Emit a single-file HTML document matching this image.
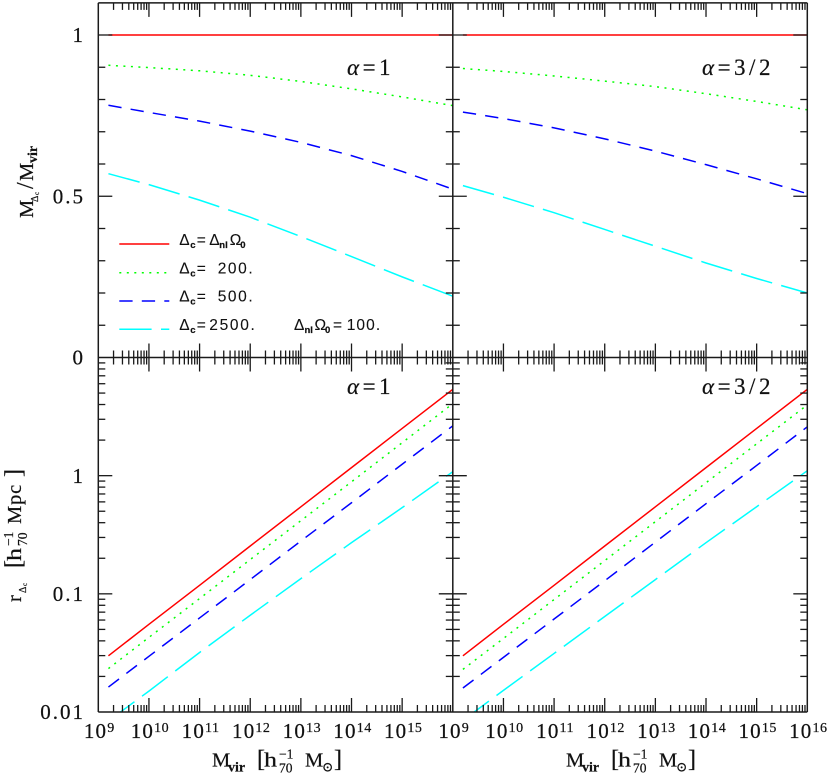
<!DOCTYPE html>
<html>
<head>
<meta charset="utf-8">
<title>Mass and radius ratios</title>
<style>
html,body{margin:0;padding:0;background:#fff;}
svg{display:block;}
text{font-family:"Liberation Serif","DejaVu Serif",serif;fill:#111;stroke:#111;stroke-width:.22px;}
.leg{font-family:"Liberation Sans","DejaVu Sans",sans-serif;font-size:15.5px;stroke-width:.1px;}
.legs{font-family:"Liberation Sans","DejaVu Sans",sans-serif;font-size:9.5px;font-weight:bold;}
.t{font-size:20.5px;letter-spacing:.8px;}
.s{font-size:13.5px;}
.a{font-size:23px;letter-spacing:3.5px;}
</style>
</head>
<body>
<svg id="chart" xmlns="http://www.w3.org/2000/svg" width="830" height="775" viewBox="0 0 830 775">
<defs>
<clipPath id="clip-tl"><rect x="98.3" y="2.9" width="354.5" height="354.6"/></clipPath>
<clipPath id="clip-tr"><rect x="452.8" y="2.9" width="354.5" height="354.6"/></clipPath>
<clipPath id="clip-bl"><rect x="98.3" y="357.5" width="354.5" height="354.5"/></clipPath>
<clipPath id="clip-br"><rect x="452.8" y="357.5" width="354.5" height="354.5"/></clipPath>
</defs>
<g id="marks"></g>

<g transform="translate(33,218) rotate(-90)">
<text class="t" x="0" y="0">M</text>
<text class="s" x="16" y="5" style="font-size:10px">Δ</text>
<text class="s" x="23" y="6" style="font-size:7px">c</text>
<text class="t" x="29" y="0" style="font-size:24px">/</text>
<text class="t" x="37" y="0">M</text>
<text class="s" x="55" y="4" style="font-weight:bold;font-size:14px">vir</text>
</g>
<g transform="translate(21,602) rotate(-90)">
<text class="t" x="0" y="0">r</text>
<text class="s" x="9" y="5" style="font-size:10px">Δ</text>
<text class="s" x="16" y="6" style="font-size:7px">c</text>
<text class="t" x="34" y="0" style="font-size:24px">[</text>
<text class="t" x="41" y="0" textLength="14" lengthAdjust="spacingAndGlyphs">h</text>
<text class="s" x="56" y="-8">−1</text>
<text class="s" x="56" y="6">70</text>
<text class="t" x="78" y="0">Mpc</text>
<text class="t" x="125" y="0" style="font-size:24px">]</text>
</g>

<g transform="translate(212,766.7)">
<text class="t" x="0" y="0">M</text>
<text class="s" x="16" y="5" style="font-weight:bold;font-size:14px">vir</text>
<text class="t" x="45" y="0" style="font-size:24px">[</text>
<text class="t" x="52" y="0" textLength="14" lengthAdjust="spacingAndGlyphs">h</text>
<text class="s" x="67" y="-8">−1</text>
<text class="s" x="67" y="6">70</text>
<text class="t" x="93" y="0">M</text>
<text class="s" x="110" y="5">⊙</text>
<text class="t" x="122" y="0" style="font-size:24px">]</text>
</g>
<g transform="translate(566,766.7)">
<text class="t" x="0" y="0">M</text>
<text class="s" x="16" y="5" style="font-weight:bold;font-size:14px">vir</text>
<text class="t" x="45" y="0" style="font-size:24px">[</text>
<text class="t" x="52" y="0" textLength="14" lengthAdjust="spacingAndGlyphs">h</text>
<text class="s" x="67" y="-8">−1</text>
<text class="s" x="67" y="6">70</text>
<text class="t" x="93" y="0">M</text>
<text class="s" x="110" y="5">⊙</text>
<text class="t" x="122" y="0" style="font-size:24px">]</text>
</g>

<text class="a" x="347" y="75"><tspan font-style="italic">α</tspan>=1</text>
<text class="a" x="702" y="75"><tspan font-style="italic">α</tspan>=3/2</text>
<text class="a" x="347" y="394"><tspan font-style="italic">α</tspan>=1</text>
<text class="a" x="702" y="394"><tspan font-style="italic">α</tspan>=3/2</text>

<g>
<line x1="119.3" x2="169.3" y1="244" y2="244" stroke="#ff0000" stroke-width="1.5"/>
<line x1="119.3" x2="169.3" y1="272.7" y2="272.7" stroke="#00ff00" stroke-width="1.5" stroke-dasharray="2 5.5"/>
<line x1="119.3" x2="169.3" y1="301" y2="301" stroke="#0000ff" stroke-width="1.5" stroke-dasharray="13.3 9.2"/>
<line x1="119.3" x2="169.3" y1="329.3" y2="329.3" stroke="#00ffff" stroke-width="1.5" stroke-dasharray="32.3 9.4"/>

<g transform="translate(179.3,245)">
<text class="leg" x="0" y="0">Δ</text><text class="legs" x="11" y="3">c</text><text class="leg" x="17.4" y="0">=</text>
<text class="leg" x="30" y="0">Δ</text><text class="legs" x="40" y="3">nl</text><text class="leg" x="50.5" y="0">Ω</text><text class="legs" x="61" y="3">0</text>
</g>
<g transform="translate(179.3,273.3)">
<text class="leg" x="0" y="0">Δ</text><text class="legs" x="11" y="3">c</text><text class="leg" x="17.4" y="0">=</text>
<text class="leg" x="38.4" y="0" textLength="35">200.</text>
</g>
<g transform="translate(179.3,301.7)">
<text class="leg" x="0" y="0">Δ</text><text class="legs" x="11" y="3">c</text><text class="leg" x="17.4" y="0">=</text>
<text class="leg" x="38.4" y="0" textLength="35">500.</text>
</g>
<g transform="translate(179.3,330)">
<text class="leg" x="0" y="0">Δ</text><text class="legs" x="11" y="3">c</text><text class="leg" x="17.4" y="0">=</text>
<text class="leg" x="30" y="0" textLength="45.5">2500.</text>
</g>
<g transform="translate(294,330)">
<text class="leg" x="0" y="0">Δ</text><text class="legs" x="10.5" y="3">nl</text><text class="leg" x="20.5" y="0">Ω</text><text class="legs" x="31" y="3">0</text><text class="leg" x="39" y="0">=</text>
<text class="leg" x="52.7" y="0" textLength="33.5">100.</text>
</g>
</g>
</svg>
<script>
// logarithm of the virial mass at which each curve was read
var logMass = [9.2, 10, 11, 12, 13, 14, 15, 16];

// mass ratio, alpha = 1
var ratioA1Virial = [1, 1, 1, 1, 1, 1, 1, 1];
var ratioA1D200 = [0.906, 0.899, 0.889, 0.875, 0.856, 0.833, 0.808, 0.781];
var ratioA1D500 = [0.782, 0.760, 0.733, 0.702, 0.667, 0.626, 0.577, 0.522];
var ratioA1D2500 = [0.570, 0.536, 0.488, 0.435, 0.375, 0.313, 0.250, 0.190];

// mass ratio, alpha = 3/2
var ratioA2Virial = [1, 1, 1, 1, 1, 1, 1, 1];
var ratioA2D200 = [0.896, 0.887, 0.873, 0.857, 0.840, 0.818, 0.794, 0.768];
var ratioA2D500 = [0.761, 0.741, 0.712, 0.678, 0.640, 0.598, 0.554, 0.508];
var ratioA2D2500 = [0.533, 0.497, 0.449, 0.397, 0.345, 0.293, 0.245, 0.200];

// radius in Mpc, alpha = 1
var radiusA1Virial = [0.0299, 0.0552, 0.118, 0.254, 0.545, 1.17, 2.51, 5.38];
var radiusA1D200 = [0.0233, 0.0428, 0.0912, 0.195, 0.416, 0.887, 1.90, 4.07];
var radiusA1D500 = [0.01626, 0.0296, 0.0625, 0.132, 0.280, 0.590, 1.25, 2.64];
var radiusA1D2500 = [0.00841, 0.01503, 0.0319, 0.0659, 0.1346, 0.271, 0.536, 1.08];

// radius in Mpc, alpha = 3/2
var radiusA2Virial = [0.0299, 0.0552, 0.118, 0.254, 0.545, 1.17, 2.51, 5.38];
var radiusA2D200 = [0.02296, 0.0419, 0.0895, 0.191, 0.408, 0.871, 1.86, 3.97];
var radiusA2D500 = [0.01596, 0.0290, 0.0612, 0.129, 0.274, 0.579, 1.22, 2.59];
var radiusA2D2500 = [0.00851, 0.01524, 0.0313, 0.0643, 0.132, 0.271, 0.546, 1.10];

// tick labels
var xExponents = [9, 10, 11, 12, 13, 14, 15, 16];
var ratioTickLabels = ['0', '0.5', '1'];
var radiusTickLabels = ['0.01', '0.1', '1'];

var NS = 'http://www.w3.org/2000/svg';
var root = document.getElementById('marks');
var PLOT_L = 98.3, PLOT_M = 452.8, PLOT_R = 807.3;
var TOP_Y = 2.9, MID_Y = 357.5, BOT_Y = 712;
var DEC_W = (PLOT_M - PLOT_L) / 7;

function mk(tag, parent) {
  var el = document.createElementNS(NS, tag);
  parent.appendChild(el);
  return el;
}
function xAxis(origin, logM) { return origin + (logM - 9) * DEC_W; }
function yRatio(v) { return MID_Y - (MID_Y - 35) * v; }
function yRadius(r) { return BOT_Y - (Math.log10(r) + 2) * (BOT_Y - MID_Y) / 3; }

function drawSeries(parent, values, origin, yFn, color, dash, clip, name) {
  var pts = values.map(function (v, i) {
    return xAxis(origin, logMass[i]).toFixed(2) + ',' + yFn(v).toFixed(2);
  }).join(' ');
  var el = mk('polyline', parent);
  
  
  el.setAttribute('points', pts);
  el.setAttribute('fill', 'none');
  el.setAttribute('stroke', color);
  el.setAttribute('stroke-width', '1.5');
  if (dash) el.setAttribute('stroke-dasharray', dash);
  el.setAttribute('clip-path', 'url(#' + clip + ')');
}
function seg(parent, x1, y1, x2, y2, w) {
  var el = mk('line', parent);
  
  
  el.setAttribute('x1', x1);
  el.setAttribute('y1', y1);
  el.setAttribute('x2', x2);
  el.setAttribute('y2', y2);
  el.setAttribute('stroke', '#1a1a1a');
  el.setAttribute('stroke-width', w || 1.3);
}

var DASH_DOT = '2 5.5', DASH_MED = '13.3 9.2', DASH_LONG = '32.3 9.4';
var RED = '#ff0000', GREEN = '#00ff00', BLUE = '#0000ff', CYAN = '#00ffff';

[
  [ratioA1Virial, ratioA1D200, ratioA1D500, ratioA1D2500, PLOT_L, yRatio, 'clip-tl', 'top-left'],
  [ratioA2Virial, ratioA2D200, ratioA2D500, ratioA2D2500, PLOT_M, yRatio, 'clip-tr', 'top-right'],
  [radiusA1Virial, radiusA1D200, radiusA1D500, radiusA1D2500, PLOT_L, yRadius, 'clip-bl', 'bottom-left'],
  [radiusA2Virial, radiusA2D200, radiusA2D500, radiusA2D2500, PLOT_M, yRadius, 'clip-br', 'bottom-right']
].forEach(function (p) {
  var g = mk('g', root);
  
  
  drawSeries(g, p[0], p[4], p[5], RED, null, p[6], 'curve-virial-' + p[7]);
  drawSeries(g, p[1], p[4], p[5], GREEN, DASH_DOT, p[6], 'curve-200-' + p[7]);
  drawSeries(g, p[2], p[4], p[5], BLUE, DASH_MED, p[6], 'curve-500-' + p[7]);
  drawSeries(g, p[3], p[4], p[5], CYAN, DASH_LONG, p[6], 'curve-2500-' + p[7]);
});

// frames
var frame = mk('g', root);


seg(frame, PLOT_L, TOP_Y, PLOT_R, TOP_Y, 1.5);
seg(frame, PLOT_L, MID_Y, PLOT_R, MID_Y, 1.5);
seg(frame, PLOT_L, BOT_Y, PLOT_R, BOT_Y, 1.5);
seg(frame, PLOT_L, TOP_Y, PLOT_L, BOT_Y, 1.5);
seg(frame, PLOT_M, TOP_Y, PLOT_M, BOT_Y, 1.5);
seg(frame, PLOT_R, TOP_Y, PLOT_R, BOT_Y, 1.5);

var MAJ = 14, MIN = 7;

// x ticks
[PLOT_L, PLOT_M].forEach(function (origin) {
  for (var d = 9; d < 16; d++) {
    for (var k = 1; k <= 9; k++) {
      var x = xAxis(origin, d + Math.log10(k));
      var len = k === 1 ? MAJ : MIN;
      if (k === 1 && d === 9) continue;
      seg(frame, x, TOP_Y, x, TOP_Y + len);
      seg(frame, x, MID_Y - len, x, MID_Y + len);
      seg(frame, x, BOT_Y - len, x, BOT_Y);
    }
  }
});

// y ticks, ratio panels
for (var i = 1; i <= 10; i++) {
  var yr = yRatio(i / 10);
  var lenR = (i === 5 || i === 10) ? MAJ : MIN;
  seg(frame, PLOT_L, yr, PLOT_L + lenR, yr);
  seg(frame, PLOT_M - lenR, yr, PLOT_M + lenR, yr);
  seg(frame, PLOT_R - lenR, yr, PLOT_R, yr);
}
// y ticks, radius panels
for (var dec = -2; dec < 1; dec++) {
  for (var m = 1; m <= 9; m++) {
    if (m === 1 && dec === -2) continue;
    var yl = yRadius(m * Math.pow(10, dec));
    var lenL = m === 1 ? MAJ : MIN;
    seg(frame, PLOT_L, yl, PLOT_L + lenL, yl);
    seg(frame, PLOT_M - lenL, yl, PLOT_M + lenL, yl);
    seg(frame, PLOT_R - lenL, yl, PLOT_R, yl);
  }
}

// tick labels
function yLabel(str, y) {
  var t = mk('text', root);
  
  
  t.setAttribute('x', 85);
  t.setAttribute('y', y);
  t.setAttribute('text-anchor', 'end');
  t.setAttribute('style', 'font-size:21px;letter-spacing:2px');
  t.textContent = str;
}
ratioTickLabels.forEach(function (s) { yLabel(s, yRatio(parseFloat(s)) + 7.2); });
radiusTickLabels.forEach(function (s) { yLabel(s, yRadius(parseFloat(s)) + 7.2); });

function xLabel(origin, e) {
  var t = mk('text', root);
  
  
  t.setAttribute('x', xAxis(origin, e) + 1);
  t.setAttribute('y', 738);
  t.setAttribute('text-anchor', 'middle');
  t.setAttribute('style', 'font-size:21px;letter-spacing:1.2px');
  t.appendChild(document.createTextNode('10'));
  var s = mk('tspan', t);
  s.setAttribute('dy', '-6');
  s.setAttribute('style', 'font-size:14px;letter-spacing:.5px');
  s.textContent = String(e);
}
xExponents.forEach(function (e) { if (e < 16) xLabel(PLOT_L, e); });
xExponents.forEach(function (e) { xLabel(PLOT_M, e); });
</script>
</body>
</html>
